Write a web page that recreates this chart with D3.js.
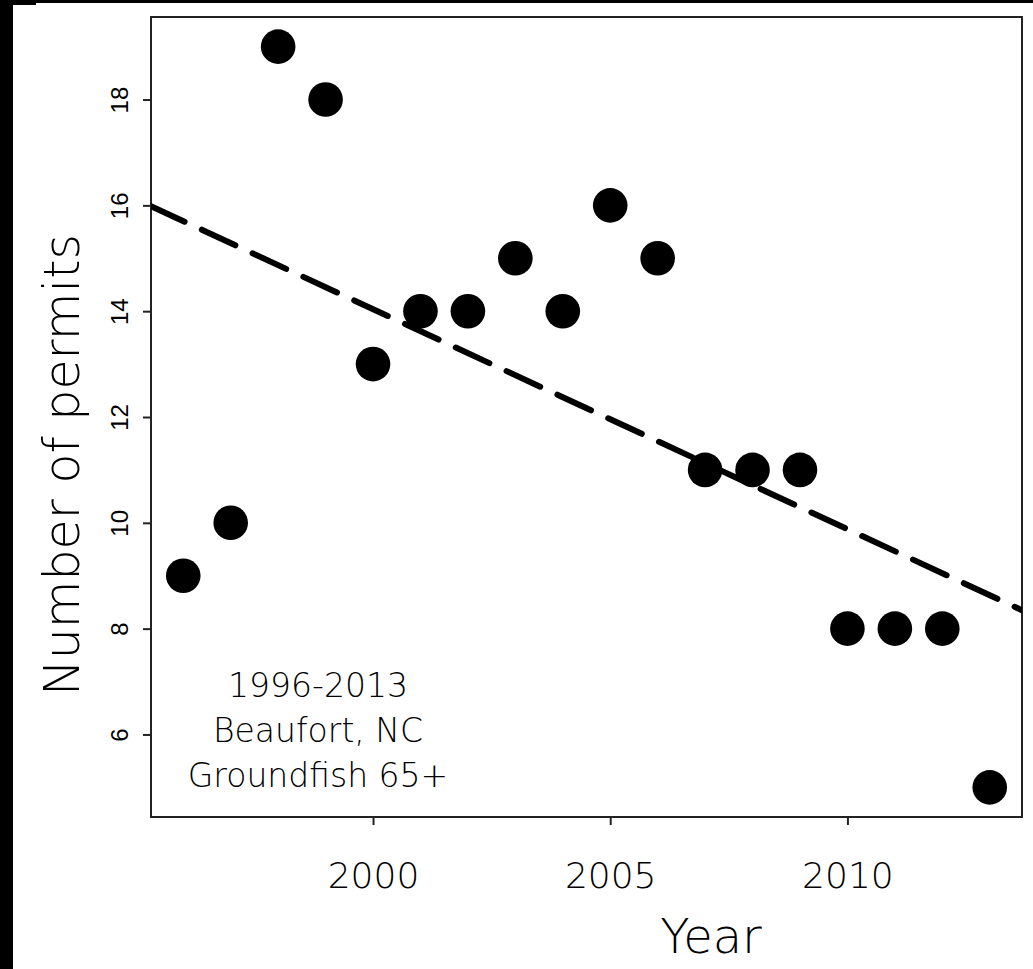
<!DOCTYPE html>
<html>
<head>
<meta charset="utf-8">
<script src="https://cdn.jsdelivr.net/npm/d3@7"></script>
<style>
  body { margin: 0; background: #000; }
  #chart svg { display: block; }
  .gothic { font-family: "Century Gothic", "URW Gothic", "DejaVu Sans", sans-serif; font-weight: 200; }
</style>
</head>
<body>
<div id="chart"></div>
<script>
"use strict";

// == DATA ==
var years   = [1996, 1997, 1998, 1999, 2000, 2001, 2002, 2003, 2004, 2005, 2006, 2007, 2008, 2009, 2010, 2011, 2012, 2013];
var permits = [9, 10, 19, 18, 13, 14, 14, 15, 14, 16, 15, 11, 11, 11, 8, 8, 8, 5];
var xTicks  = [2000, 2005, 2010];
var yTicks  = [6, 8, 10, 12, 14, 16, 18];
var noteLines = ["1996-2013", "Beaufort, NC", "Groundfish 65+"];

var data = years.map(function (y, i) { return { year: y, n: permits[i] }; });

// == BOILERPLATE ==
var W = 1033, H = 969;
var box = { left: 151, top: 17, right: 1022, bottom: 817 };

var svg = d3.select("#chart")
            .append("svg")
            .attr("width", W)
            .attr("height", H);

// black frame left / top, white page
svg.append("rect").attr("width", W).attr("height", H).attr("fill", "#000");
svg.append("rect").attr("x", 13).attr("y", 3).attr("width", W - 13).attr("height", H - 3).attr("fill", "#fff");
svg.append("rect").attr("x", 13).attr("y", 0).attr("width", 23).attr("height", 5).attr("fill", "#000");

// R style axis ranges (data range + 4%)
var xPad = (d3.max(years) - d3.min(years)) * 0.04;
var yPad = (d3.max(permits) - d3.min(permits)) * 0.04;

var x = d3.scaleLinear()
          .domain([d3.min(years) - xPad, d3.max(years) + xPad])
          .range([box.left, box.right]);

var y = d3.scaleLinear()
          .domain([d3.min(permits) - yPad, d3.max(permits) + yPad])
          .range([box.bottom, box.top]);

// == AXES ==
var yAxis = d3.axisLeft(y).tickValues(yTicks).tickSize(8).tickPadding(5);
var gy = svg.append("g")
            .attr("transform", "translate(" + box.left + ",0)")
            .call(yAxis);
gy.select(".domain").remove();
gy.selectAll("line").attr("stroke", "#222").attr("stroke-width", 2);
gy.selectAll("text")
  .attr("font-family", "'Liberation Sans', Arial, sans-serif")
  .attr("font-size", 24)
  .attr("fill", "#000")
  .attr("x", null).attr("dy", null)
  .attr("text-anchor", "middle")
  .attr("transform", "translate(-23,0) rotate(-90)");

var xAxis = d3.axisBottom(x).tickValues(xTicks).tickFormat(d3.format("d")).tickSize(8).tickPadding(5);
var gx = svg.append("g")
            .attr("transform", "translate(0," + box.bottom + ")")
            .call(xAxis);
gx.select(".domain").remove();
gx.selectAll("line").attr("stroke", "#222").attr("stroke-width", 2);
gx.selectAll("text")
  .attr("class", "gothic")
  .attr("font-size", 36)
  .attr("fill", "#000")
  .attr("dy", null)
  .attr("y", 71);

// plot box
svg.append("rect")
   .attr("x", box.left).attr("y", box.top)
   .attr("width", box.right - box.left)
   .attr("height", box.bottom - box.top)
   .attr("fill", "none")
   .attr("stroke", "#222")
   .attr("stroke-width", 2);

// == LABELS ==
svg.append("text")
   .attr("class", "gothic")
   .attr("x", 711).attr("y", 953)
   .attr("text-anchor", "middle")
   .attr("font-size", 48)
   .text("Year");

svg.append("text")
   .attr("class", "gothic")
   .attr("transform", "translate(79,465) rotate(-90)")
   .attr("text-anchor", "middle")
   .attr("font-size", 49)
   .text("Number of permits");

svg.append("g")
   .selectAll("text")
   .data(noteLines)
   .enter()
   .append("text")
   .attr("class", "gothic")
   .attr("x", 318)
   .attr("y", function (d, i) { return 697 + i * 45; })
   .attr("text-anchor", "middle")
   .attr("font-size", 33)
   .text(function (d) { return d; });

// == FIT LINE (lm) ==
var mx = d3.mean(years), my = d3.mean(permits);
var sxy = d3.sum(data, function (d) { return (d.year - mx) * (d.n - my); });
var sxx = d3.sum(data, function (d) { return (d.year - mx) * (d.year - mx); });
var slope = sxy / sxx, icpt = my - slope * mx;

svg.append("clipPath").attr("id", "plotclip")
   .append("rect")
   .attr("x", box.left).attr("y", box.top)
   .attr("width", box.right - box.left)
   .attr("height", box.bottom - box.top);

var xd = x.domain();
svg.append("line")
   .attr("clip-path", "url(#plotclip)")
   .attr("x1", x(xd[0])).attr("y1", y(icpt + slope * xd[0]))
   .attr("x2", x(xd[1])).attr("y2", y(icpt + slope * xd[1]))
   .attr("stroke", "#000")
   .attr("stroke-width", 6)
   .attr("stroke-linecap", "round")
   .attr("stroke-dasharray", "37 19");

// == POINTS ==
svg.selectAll("circle.pt")
   .data(data)
   .enter()
   .append("circle")
   .attr("class", "pt")
   .attr("cx", function (d) { return x(d.year); })
   .attr("cy", function (d) { return y(d.n); })
   .attr("r", 17.3)
   .attr("fill", "#000");
</script>
</body>
</html>
